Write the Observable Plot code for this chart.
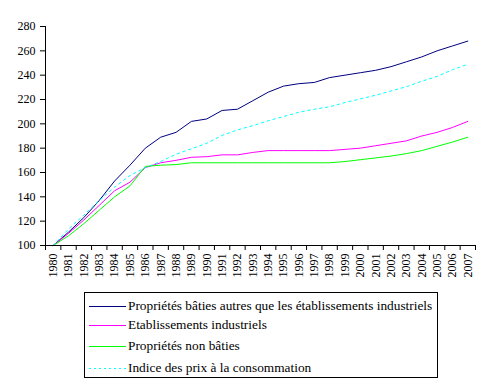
<!DOCTYPE html>
<html><head><meta charset="utf-8">
<script src="https://cdn.jsdelivr.net/npm/d3@7"></script>
<script src="https://cdn.jsdelivr.net/npm/@observablehq/plot@0.6"></script>
<style>
body{margin:0;background:#fff;font-family:"Liberation Serif","Times New Roman",serif;}
#legend{position:absolute;left:84px;top:292px;width:352px;height:84px;border:1px solid #000;font-family:"Liberation Serif","Times New Roman",serif;font-size:13.33px;color:#000;}
.row{position:absolute;left:4px;height:16px;display:flex;align-items:center;white-space:nowrap;}
.sw{width:37px;height:1px;margin-right:2px;}
</style></head>
<body>
<div id="chart"></div>
<div id="legend"></div>
<script>
const years = d3.range(1980, 2008);
const seriesNames = [
  "Propriétés bâties autres que les établissements industriels",
  "Etablissements industriels",
  "Propriétés non bâties",
  "Indice des prix à la consommation"
];
const bati = [100,111,123,137,153,166,180,189,193,202,204,211,212,219,226,231,233,234,238,240,242,244,247,251,255,260,264,268];
const industriels = [100,110,121,133,145,152,164,168,170,172.5,173,174.5,174.5,176.5,178,178,178,178,178,179,180,182,184,186,190,193,197,202];
const nonBaties = [100,108,118,129,140,149,165,166,166.5,168,168,168,168,168,168,168,168,168,168,169,170.5,172,173.5,175.5,178,181.5,185,189];
const ipc = [100,113.5,125,137,148,157.5,164,169,175,179.5,184,190.5,195,198.5,202.5,206,209.5,212,214,217.5,220.5,223.5,227,230.5,235,239,244.5,249];
const yTicks = [100,120,140,160,180,200,220,240,260,280];
const colors = ["#000080","#ff00ff","#00ff00","#00ffff"];
const dashes = [null,null,null,"2.5,3.5"];
const serif = "Liberation Serif, Times New Roman, serif";

const allSeries = [bati, industriels, nonBaties, ipc];
const rows = [];
allSeries.forEach((vals, s) => vals.forEach((v, i) => rows.push({year: years[i], value: v, s})));
const boundaries = d3.range(1979.5, 2008.5, 1);

const plot = Plot.plot({
  width: 490,
  height: 288,
  marginLeft: 45,
  marginRight: 15,
  marginTop: 26,
  marginBottom: 43,
  style: {fontFamily: serif, fontSize: "12px", color: "#000", background: "#fff"},
  x: {type: "linear", domain: [1979.5, 2007.5]},
  y: {domain: [100, 280]},
  marks: [
    ...allSeries.map((vals, s) => Plot.line(rows.filter(r => r.s === s), {
      x: "year", y: "value", stroke: colors[s], strokeWidth: 1,
      strokeDasharray: dashes[s] || undefined
    })),
    Plot.ruleX([1979.5], {stroke: "#000"}),
    Plot.ruleY([100], {stroke: "#000"}),
    Plot.axisY({ticks: yTicks, tickSize: 5, tickPadding: 5, label: null, fontSize: 12, fontFamily: serif, fill: "#000", stroke: "#000"}),
    Plot.axisX({ticks: boundaries, tickSize: 5, tickFormat: () => "", label: null, stroke: "#000"}),
    Plot.axisX({ticks: years, tickSize: 0, tickPadding: 8, tickRotate: -90, tickFormat: d => String(d), label: null, fontSize: 12, fontFamily: serif, fill: "#000"})
  ]
});
document.getElementById("chart").appendChild(plot);

const legend = document.getElementById("legend");
const tops = [5, 24, 45, 67];
seriesNames.forEach((name, s) => {
  const row = document.createElement("div");
  row.className = "row";
  row.style.top = tops[s] + "px";
  const sw = document.createElement("div");
  sw.className = "sw";
  sw.style.background = dashes[s]
    ? `repeating-linear-gradient(to right, ${colors[s]} 0 2px, transparent 2px 5px)`
    : colors[s];
  const t = document.createElement("span");
  t.textContent = name;
  row.appendChild(sw); row.appendChild(t);
  legend.appendChild(row);
});
</script>
</body></html>
